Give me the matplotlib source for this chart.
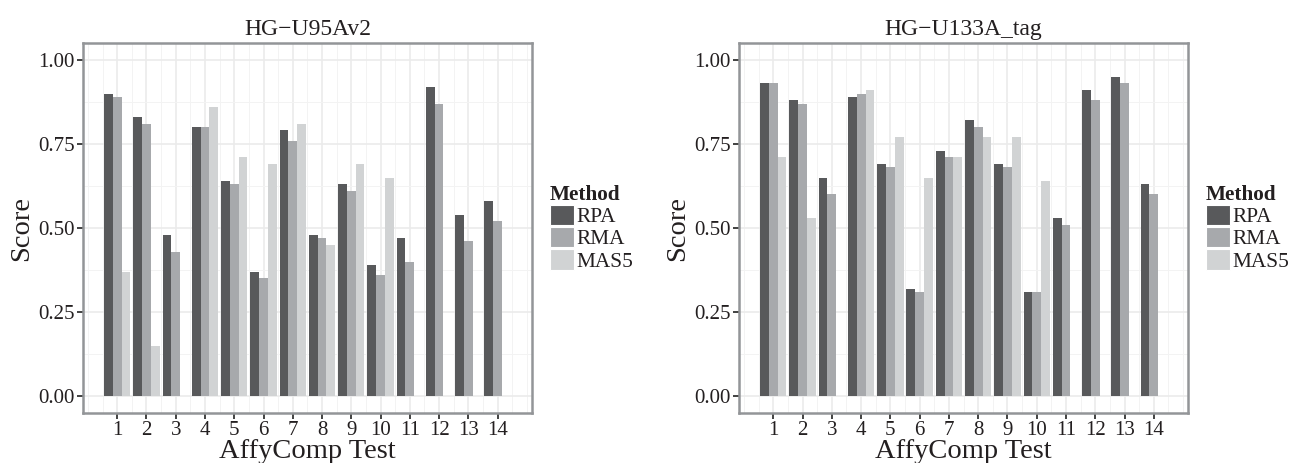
import numpy as np
import matplotlib
matplotlib.use("Agg")
import matplotlib.pyplot as plt
from matplotlib.patches import Patch
from matplotlib.ticker import MultipleLocator

plt.rcParams['font.family'] = ['Liberation Serif', 'DejaVu Serif']

tests = list(range(1, 15))
methods = ["RPA", "RMA", "MAS5"]
colors = ["#58595b", "#a7a9ac", "#d1d3d4"]

# HG-U95Av2
u95_rpa = [0.90, 0.83, 0.48, 0.80, 0.64, 0.37, 0.79, 0.48, 0.63, 0.39, 0.47, 0.92, 0.54, 0.58]
u95_rma = [0.89, 0.81, 0.43, 0.80, 0.63, 0.35, 0.76, 0.47, 0.61, 0.36, 0.40, 0.87, 0.46, 0.52]
u95_mas5 = [0.37, 0.15, np.nan, 0.86, 0.71, 0.69, 0.81, 0.45, 0.69, 0.65, np.nan, np.nan, np.nan, np.nan]

# HG-U133A_tag
u133_rpa = [0.93, 0.88, 0.65, 0.89, 0.69, 0.32, 0.73, 0.82, 0.69, 0.31, 0.53, 0.91, 0.95, 0.63]
u133_rma = [0.93, 0.87, 0.60, 0.90, 0.68, 0.31, 0.71, 0.80, 0.68, 0.31, 0.51, 0.88, 0.93, 0.60]
u133_mas5 = [0.71, 0.53, np.nan, 0.91, 0.77, 0.65, 0.71, 0.77, 0.77, 0.64, np.nan, np.nan, np.nan, np.nan]

panels = [
    ("HG\u2212U95Av2", [u95_rpa, u95_rma, u95_mas5]),
    ("HG\u2212U133A_tag", [u133_rpa, u133_rma, u133_mas5]),
]

fig = plt.figure(figsize=(12.9, 4.63), dpi=100)
positions = [[0.0643, 0.108, 0.348, 0.799], [0.5729, 0.108, 0.3481, 0.799]]
legend_x = [0.4178, 0.9266]

x = np.array(tests)
w = 0.3
txt = "#231f20"

for (title, series), pos, lx in zip(panels, positions, legend_x):
    ax = fig.add_axes(pos)
    for i, (vals, col) in enumerate(zip(series, colors)):
        ax.bar(x + (i - 1) * w, vals, width=w, color=col, linewidth=0, zorder=2)
    ax.set_xlim(-0.17, 15.17)
    ax.set_ylim(-0.05, 1.05)
    ax.set_xticks(tests)
    ax.set_xticklabels([str(t) for t in tests])
    ax.xaxis.set_minor_locator(MultipleLocator(0.5))
    ax.set_yticks([0, 0.25, 0.5, 0.75, 1.0])
    ax.set_yticklabels(["0.00", "0.25", "0.50", "0.75", "1.00"])
    ax.yaxis.set_minor_locator(MultipleLocator(0.125))
    ax.grid(which="major", color="#ebebeb", linewidth=1.2, zorder=0)
    ax.grid(which="minor", color="#f3f3f3", linewidth=0.7, zorder=0)
    ax.set_axisbelow(True)
    ax.tick_params(which="major", length=4, width=1.3, color="#333333",
                   labelsize=15, labelcolor=txt, pad=2)
    ax.tick_params(which="minor", length=0)
    for s in ax.spines.values():
        s.set_color("#939598")
        s.set_linewidth(1.8)
    ax.set_title(title, fontsize=17, color=txt, pad=6)
    ax.set_xlabel("AffyComp Test", fontsize=20.5, color=txt, labelpad=-1)
    ax.set_ylabel("Score", fontsize=20.5, color=txt, labelpad=3)

    handles = [Patch(facecolor=c, edgecolor="white", linewidth=0.8) for c in colors]
    leg = fig.legend(handles, methods, loc="center left", bbox_to_anchor=(lx, 0.507),
                     frameon=False, title="Method", fontsize=15.3,
                     title_fontproperties={"weight": "bold", "size": 15.3},
                     handlelength=1.15, handleheight=1.1, handletextpad=0.1,
                     labelspacing=0.0, borderpad=0, alignment="left")
    for t in leg.get_texts():
        t.set_color(txt)
    leg.get_title().set_color(txt)

fig.savefig("out.png", dpi=100)
